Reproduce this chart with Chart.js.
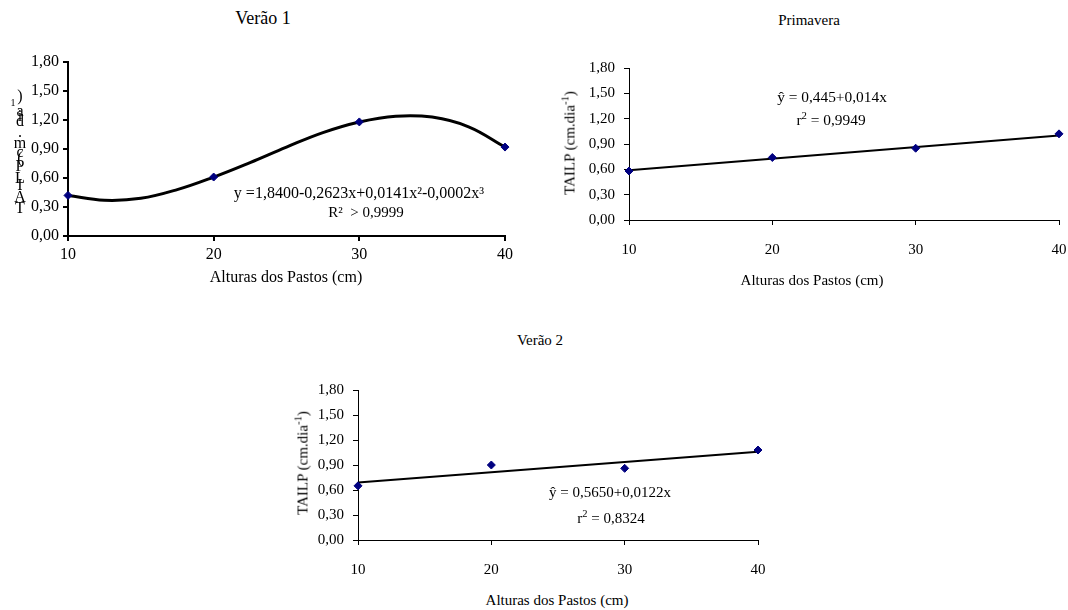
<!DOCTYPE html>
<html><head><meta charset="utf-8">
<script src="https://cdn.jsdelivr.net/npm/chart.js@4"></script>
<style>
body{margin:0;background:#fff;width:1068px;height:610px;position:relative;overflow:hidden;font-family:"Liberation Serif","Times New Roman",serif;color:#000;}
canvas{position:absolute;}
.t{position:absolute;white-space:nowrap;transform:translate(-50%,-50%);line-height:1;}
.rot{transform:translate(-50%,-50%) rotate(-90deg);}
.ch{position:absolute;font-size:16px;line-height:1;transform:translate(-50%,-50%);}
sup{font-size:0.7em;vertical-align:0.55em;line-height:0;}
</style></head><body>

<canvas id="c1" width="527" height="239" style="left:8px;top:42px"></canvas>
<canvas id="c2" width="520" height="217" style="left:569px;top:48px"></canvas>
<canvas id="c3" width="490" height="215" style="left:298px;top:370px"></canvas>

<div class="t" style="left:263px;top:18px;font-size:18px">Verão 1</div>
<div class="t" style="left:286px;top:277px;font-size:16px">Alturas dos Pastos (cm)</div>
<div class="t" style="left:359px;top:193px;font-size:16px">y =1,8400-0,2623x+0,0141x²-0,0002x³</div>
<div class="t" style="left:366px;top:212px;font-size:15px">R² &nbsp;&gt; 0,9999</div>

<div class="t" style="left:809px;top:20px;font-size:15px">Primavera</div>
<div class="t" style="left:812px;top:280px;font-size:15px">Alturas dos Pastos (cm)</div>
<div class="t rot" style="left:570px;top:143px;font-size:15px">TAILP (cm.dia<sup>-1</sup>)</div>
<div class="t" style="left:832px;top:97px;font-size:15.4px">ŷ = 0,445+0,014x</div>
<div class="t" style="left:831px;top:120px;font-size:15.4px">r<sup>2</sup> = 0,9949</div>

<div class="t" style="left:540px;top:340px;font-size:15px">Verão 2</div>
<div class="t" style="left:557px;top:600px;font-size:15px">Alturas dos Pastos (cm)</div>
<div class="t rot" style="left:303px;top:463px;font-size:15px">TAILP (cm.dia<sup>-1</sup>)</div>
<div class="t" style="left:610px;top:492px;font-size:15px">ŷ = 0,5650+0,0122x</div>
<div class="t" style="left:611px;top:518px;font-size:15px">r<sup>2</sup> = 0,8324</div>

<div id="garbled"></div>

<script>
// ---- data ----
const heights = [10, 20, 30, 40];
const xTickValues = [10, 20, 30, 40];
const yTickValues = [0, 0.3, 0.6, 0.9, 1.2, 1.5, 1.8];

const verao1 = [0.42, 0.61, 1.18, 0.92];
const primavera = [0.58, 0.74, 0.85, 1.02];
const verao2 = [0.65, 0.90, 0.86, 1.08];

// fitted curve of Verão 1
const verao1CurveX = [10, 12.5, 15, 17.5, 20, 22.5, 25, 27.5, 30, 32.5, 35, 37.5, 40];
const verao1CurveY = [0.42, 0.37, 0.39, 0.48, 0.61, 0.76, 0.92, 1.07, 1.18, 1.24, 1.23, 1.13, 0.92];

// fitted lines (ends at x=10 and x=40)
const lineX = [10, 40];
const primaveraLineY = [0.59, 1.00];
const verao2LineY = [0.69, 1.06];

// garbled rotated label of first chart (stacked letters)
const garbledChars = [")", "a", "i", "d", ".", "m", "c", "(", "P", "L", "I", "A", "T"];

// ---- helpers ----
const fmt = v => v.toFixed(2).replace('.', ',');
function pts(xs, ys) { return xs.map((x, i) => ({ x: x, y: ys[i] })); }

function scales(o) {
  const font = { family: '"Liberation Serif","Times New Roman",serif', size: o.fs };
  const common = {
    type: 'linear',
    grid: { display: true, drawOnChartArea: false, drawTicks: true, tickLength: 5, color: '#000', lineWidth: o.axw },
    border: { display: true, color: '#000', width: o.axw }
  };
  return {
    x: Object.assign({}, common, {
      min: 10, max: 40,
      afterBuildTicks: s => { s.ticks = xTickValues.map(v => ({ value: v })); },
      ticks: { font, color: '#000', padding: o.xpad, maxRotation: 0, autoSkip: false },
      afterFit: s => { s.height = 45; }
    }),
    y: Object.assign({}, common, {
      min: 0, max: 1.8,
      afterBuildTicks: s => { s.ticks = yTickValues.map(v => ({ value: v })); },
      ticks: { font, color: '#000', padding: o.ypad, autoSkip: false, callback: v => fmt(v) },
      afterFit: s => { s.width = 60; }
    })
  };
}

function make(id, pointsY, trendX, trendY, opt) {
  new Chart(document.getElementById(id), {
    type: 'scatter',
    data: {
      datasets: [
        { data: pts(heights, pointsY), pointStyle: 'rectRot', pointRadius: opt.pr, pointBackgroundColor: '#000080', pointBorderColor: '#000080', pointBorderWidth: 1, showLine: false, clip: false },
        { data: pts(trendX, trendY), showLine: true, borderColor: '#000', borderWidth: opt.lw, pointRadius: 0, tension: opt.tension, fill: false, clip: false }
      ]
    },
    options: {
      responsive: false, animation: false,
      layout: { padding: { top: 20, right: 30, left: 0, bottom: 0 } },
      plugins: { legend: { display: false }, tooltip: { enabled: false }, title: { display: false } },
      scales: scales(opt)
    }
  });
}

make('c1', verao1, verao1CurveX, verao1CurveY, { pr: 4, lw: 3, tension: 0.4, fs: 16, axw: 2, xpad: 4, ypad: 4 });
make('c2', primavera, lineX, primaveraLineY, { pr: 4, lw: 2, tension: 0, fs: 15, axw: 1, xpad: 16, ypad: 9 });
make('c3', verao2, lineX, verao2LineY, { pr: 4, lw: 2, tension: 0, fs: 15, axw: 1, xpad: 16, ypad: 9 });

// garbled label
const g = document.getElementById('garbled');
const gy = [96, 111, 116, 121, 132, 143, 152, 158, 166, 178, 185, 197, 208];
garbledChars.forEach((c, i) => {
  const d = document.createElement('div');
  d.className = 'ch'; d.textContent = c;
  d.style.left = '20px'; d.style.top = gy[i] + 'px';
  g.appendChild(d);
});
const s1 = document.createElement('div');
s1.className = 'ch'; s1.textContent = '1'; s1.style.fontSize = '10px';
s1.style.left = '13px'; s1.style.top = '103px';
g.appendChild(s1);
</script>
</body></html>
